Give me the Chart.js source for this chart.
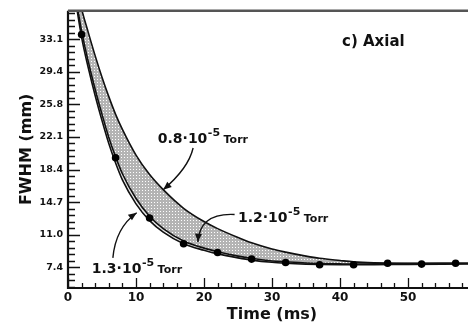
<!DOCTYPE html>
<html>
<head>
<meta charset="utf-8">
<script src="https://cdn.jsdelivr.net/npm/chart.js@4.4.0/dist/chart.umd.min.js"></script>
<style>
  html, body { margin: 0; padding: 0; background: #fff; overflow: hidden; }
  #wrap { width: 468px; height: 323px; overflow: hidden; }
</style>
</head>
<body>
<div id="wrap"><canvas id="c" width="490" height="323"></canvas></div>
<script>
// ── Simulated FWHM curves (ms → mm), one per background pressure ──
const curveTimes = [1, 2, 3, 4, 5, 6, 7, 8, 10, 12, 14, 17, 20, 22, 25, 27, 30, 32, 35, 37, 40, 42, 45, 50, 55, 62];
const fwhm08 = [40.0, 36.5, 33.8, 31.2, 28.8, 26.6, 24.6, 22.9, 20.0, 17.8, 16.1, 14.0, 12.5, 11.7, 10.7, 10.1, 9.4, 9.05, 8.6, 8.35, 8.1, 7.95, 7.85, 7.8, 7.8, 7.8];
const fwhm12 = [38.5, 34.0, 30.5, 27.4, 24.6, 22.0, 19.8, 17.9, 15.1, 13.1, 11.7, 10.3, 9.5, 9.1, 8.6, 8.35, 8.05, 7.95, 7.82, 7.77, 7.72, 7.7, 7.72, 7.75, 7.78, 7.8];
const fwhm13 = [38.0, 33.3, 29.8, 26.7, 23.9, 21.3, 19.1, 17.2, 14.5, 12.6, 11.3, 10.0, 9.25, 8.85, 8.4, 8.15, 7.9, 7.8, 7.7, 7.66, 7.63, 7.62, 7.63, 7.67, 7.7, 7.72];

// ── Measured points ──
const measTimes = [2, 7, 12, 17, 22, 27, 32, 37, 42, 47, 52, 57];
const measFwhm = [33.6, 19.7, 12.9, 10.0, 9.0, 8.26, 7.88, 7.62, 7.62, 7.8, 7.7, 7.8];

// ── Axis ticks ──
const yTickValues = [7.35, 11.025, 14.7, 18.375, 22.05, 25.725, 29.4, 33.075];
const yTickLabels = ['7.4', '11.0', '14.7', '18.4', '22.1', '25.8', '29.4', '33.1'];
const xTickValues = [0, 10, 20, 30, 40, 50, 60];
const xMinorStep = 2;
const yMinorPerMajor = 5;

const FONT = '"DejaVu Sans", "Liberation Sans", sans-serif';

function stipple(bg, dot) {
  const t = document.createElement('canvas');
  t.width = 3; t.height = 3;
  const g = t.getContext('2d');
  g.fillStyle = bg; g.fillRect(0, 0, 3, 3);
  g.fillStyle = dot; g.fillRect(1, 1, 1, 1);
  return g.createPattern(t, 'repeat');
}

const darkFill = stipple('#b4b4b4', '#ffffff');
const lightFill = stipple('#e4e4e4', '#ffffff');

const toXY = (xs, ys) => xs.map((x, i) => ({ x, y: ys[i] }));

// ── Frame + inward ticks ──
const frame = {
  id: 'frame',
  afterDatasetsDraw(chart) {
    const { ctx, chartArea: a, scales: { x, y } } = chart;
    ctx.save();
    ctx.strokeStyle = '#111';
    ctx.lineWidth = 1.3;
    ctx.beginPath();
    // y major + minor
    const step = yTickValues[1] - yTickValues[0];
    const minor = [];
    for (let v = yTickValues[0] - step; v <= y.max; v += step) {
      for (let k = 1; k < yMinorPerMajor; k++) minor.push(v + k * step / yMinorPerMajor);
    }
    minor.filter(v => v > y.min && v < y.max).forEach(v => {
      const py = Math.round(y.getPixelForValue(v)) + 0.5;
      ctx.moveTo(a.left, py); ctx.lineTo(a.left + 7, py);
    });
    yTickValues.forEach(v => {
      const py = Math.round(y.getPixelForValue(v)) + 0.5;
      ctx.moveTo(a.left, py); ctx.lineTo(a.left + 12, py);
    });
    // x major + minor
    for (let v = x.min; v <= x.max; v += xMinorStep) {
      const px = Math.round(x.getPixelForValue(v)) + 0.5;
      const len = xTickValues.includes(v) ? 10 : 5;
      ctx.moveTo(px, a.bottom); ctx.lineTo(px, a.bottom - len);
    }
    ctx.stroke();

    ctx.lineWidth = 2.2;
    ctx.strokeStyle = '#111';
    ctx.beginPath();
    ctx.moveTo(a.left, a.top); ctx.lineTo(a.left, a.bottom); ctx.lineTo(a.right, a.bottom);
    ctx.stroke();
    ctx.strokeStyle = '#555';
    ctx.lineWidth = 2.4;
    ctx.beginPath();
    ctx.moveTo(a.left, a.top); ctx.lineTo(a.right, a.top);
    ctx.stroke();
    ctx.restore();
  }
};

// ── Pressure labels with curved arrows (anchored in data units) ──
const notes = [
  { lead: '0.8·10', at: [13.2, 21.4], arrow: [[18.4, 20.8], [17.7, 18.5], [14.0, 16.1]] },
  { lead: '1.2·10', at: [25.0, 12.4], arrow: [[24.5, 13.3], [19.4, 13.5], [19.1, 10.2]] },
  { lead: '1.3·10', at: [3.5, 6.7], arrow: [[6.6, 8.4], [7.0, 11.8], [10.1, 13.5]] }
];

const annotate = {
  id: 'annotate',
  afterDraw(chart) {
    const { ctx, scales: { x, y } } = chart;
    const P = p => [x.getPixelForValue(p[0]), y.getPixelForValue(p[1])];
    ctx.save();
    ctx.fillStyle = '#111';
    ctx.strokeStyle = '#111';
    ctx.textBaseline = 'alphabetic';
    notes.forEach(n => {
      const [tx, ty] = P(n.at);
      ctx.font = 'bold 14px ' + FONT;
      ctx.fillText(n.lead, tx, ty);
      let w = ctx.measureText(n.lead).width;
      ctx.font = 'bold 11px ' + FONT;
      ctx.fillText('-5', tx + w + 0.5, ty - 7);
      w += ctx.measureText('-5').width + 4;
      ctx.fillText('Torr', tx + w, ty);

      const [s, c, e] = n.arrow.map(P);
      ctx.lineWidth = 1.4;
      ctx.beginPath();
      ctx.moveTo(s[0], s[1]);
      ctx.quadraticCurveTo(c[0], c[1], e[0], e[1]);
      ctx.stroke();
      const ang = Math.atan2(e[1] - c[1], e[0] - c[0]);
      ctx.beginPath();
      ctx.moveTo(e[0], e[1]);
      ctx.lineTo(e[0] - 9 * Math.cos(ang - 0.4), e[1] - 9 * Math.sin(ang - 0.4));
      ctx.lineTo(e[0] - 9 * Math.cos(ang + 0.4), e[1] - 9 * Math.sin(ang + 0.4));
      ctx.closePath();
      ctx.fill();
    });
    ctx.font = 'bold 15px ' + FONT;
    const [ax, ay] = P([40.3, 32.3]);
    ctx.fillText('c) Axial', ax, ay);
    ctx.restore();
  }
};

const curve = (data, fill, bg) => ({
  data: toXY(curveTimes, data),
  borderColor: '#111',
  borderWidth: 1.6,
  pointRadius: 0,
  cubicInterpolationMode: 'monotone',
  fill,
  backgroundColor: bg
});

new Chart(document.getElementById('c'), {
  type: 'line',
  data: {
    datasets: [
      {
        data: toXY(measTimes, measFwhm),
        showLine: false,
        pointRadius: 3.8,
        pointBackgroundColor: '#000',
        pointBorderColor: '#000',
        pointBorderWidth: 0
      },
      curve(fwhm08, '+1', darkFill),
      curve(fwhm12, '+1', lightFill),
      curve(fwhm13, false, 'transparent')
    ]
  },
  options: {
    responsive: false,
    animation: false,
    layout: { padding: { top: 8, right: 14, left: 0, bottom: 0 } },
    plugins: {
      legend: { display: false },
      tooltip: { enabled: false },
      filler: { drawTime: 'beforeDatasetsDraw' }
    },
    scales: {
      x: {
        type: 'linear',
        min: 0, max: 60,
        afterBuildTicks: s => { s.ticks = xTickValues.map(v => ({ value: v })); },
        afterFit: s => { s.height = 35; },
        grid: { display: false, drawTicks: false },
        border: { display: false },
        ticks: { padding: 3, color: '#111', font: { family: FONT, size: 12, weight: 'bold' }, maxRotation: 0 },
        title: {
          display: true, text: 'Time (ms)', color: '#111',
          font: { family: FONT, size: 16, weight: 'bold', lineHeight: 1 },
          padding: { top: 0, bottom: 0 }
        }
      },
      y: {
        type: 'linear',
        min: 5.0, max: 36.3,
        afterBuildTicks: s => { s.ticks = yTickValues.map(v => ({ value: v })); },
        afterFit: s => { s.width = 68; },
        grid: { display: false, drawTicks: false },
        border: { display: false },
        ticks: {
          padding: 5, color: '#111',
          font: { family: FONT, size: 9.5, weight: 'bold' },
          callback: (v, i) => yTickLabels[i]
        },
        title: {
          display: true, text: 'FWHM (mm)', color: '#111',
          font: { family: FONT, size: 16, weight: 'bold', lineHeight: 1 },
          padding: { top: 19, bottom: 0 }
        }
      }
    }
  },
  plugins: [frame, annotate]
});
</script>
</body>
</html>
